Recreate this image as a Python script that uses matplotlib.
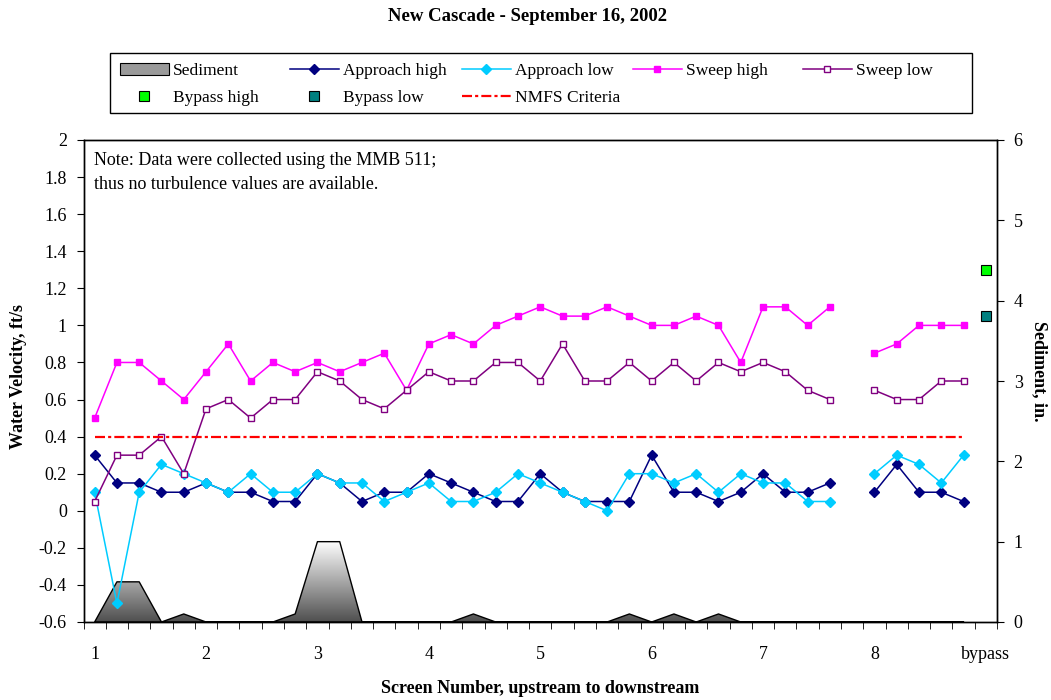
import numpy as np
import matplotlib
matplotlib.use("Agg")
import matplotlib.pyplot as plt
from matplotlib.lines import Line2D
from matplotlib.patches import Patch, Rectangle
from matplotlib.colors import LinearSegmentedColormap

plt.rcParams['font.family'] = ['Liberation Serif', 'DejaVu Serif']

# categories: screens 1.0 .. 8.8 in steps of 0.2, then the bypass
tick_labels = ['1', '2', '3', '4', '5', '6', '7', '8', 'bypass']
n_cat = 41

approach_high = [0.30, 0.15, 0.15, 0.10, 0.10,
                 0.15, 0.10, 0.10, 0.05, 0.05,
                 0.20, 0.15, 0.05, 0.10, 0.10,
                 0.20, 0.15, 0.10, 0.05, 0.05,
                 0.20, 0.10, 0.05, 0.05, 0.05,
                 0.30, 0.10, 0.10, 0.05, 0.10,
                 0.20, 0.10, 0.10, 0.15, None,
                 0.10, 0.25, 0.10, 0.10, 0.05, None]
approach_low = [0.10, -0.50, 0.10, 0.25, 0.20,
                0.15, 0.10, 0.20, 0.10, 0.10,
                0.20, 0.15, 0.15, 0.05, 0.10,
                0.15, 0.05, 0.05, 0.10, 0.20,
                0.15, 0.10, 0.05, 0.00, 0.20,
                0.20, 0.15, 0.20, 0.10, 0.20,
                0.15, 0.15, 0.05, 0.05, None,
                0.20, 0.30, 0.25, 0.15, 0.30, None]
sweep_high = [0.50, 0.80, 0.80, 0.70, 0.60,
              0.75, 0.90, 0.70, 0.80, 0.75,
              0.80, 0.75, 0.80, 0.85, 0.65,
              0.90, 0.95, 0.90, 1.00, 1.05,
              1.10, 1.05, 1.05, 1.10, 1.05,
              1.00, 1.00, 1.05, 1.00, 0.80,
              1.10, 1.10, 1.00, 1.10, None,
              0.85, 0.90, 1.00, 1.00, 1.00, None]
sweep_low = [0.05, 0.30, 0.30, 0.40, 0.20,
             0.55, 0.60, 0.50, 0.60, 0.60,
             0.75, 0.70, 0.60, 0.55, 0.65,
             0.75, 0.70, 0.70, 0.80, 0.80,
             0.70, 0.90, 0.70, 0.70, 0.80,
             0.70, 0.80, 0.70, 0.80, 0.75,
             0.80, 0.75, 0.65, 0.60, None,
             0.65, 0.60, 0.60, 0.70, 0.70, None]
sediment = [0, 0.5, 0.5, 0, 0.1,
            0, 0, 0, 0, 0.1,
            1.0, 1.0, 0, 0, 0,
            0, 0, 0.1, 0, 0,
            0, 0, 0, 0, 0.1,
            0, 0.1, 0, 0.1, 0,
            0, 0, 0, 0, 0,
            0, 0, 0, 0, 0, None]
bypass_high = 1.30
bypass_low = 1.05
nmfs_criteria = 0.4

def arr(v):
    return np.array([np.nan if x is None else x for x in v], dtype=float)

x = np.arange(n_cat)

fig = plt.figure(figsize=(10.51, 7.0), dpi=100)
ax = fig.add_axes([83.5 / 1051, 78 / 700, 913.5 / 1051, 482 / 700])
ax2 = ax.twinx()
ax.set_zorder(ax2.get_zorder() + 1)
ax.patch.set_visible(False)

# sediment area with vertical gradient (right axis)
sed = arr(sediment)
m = ~np.isnan(sed)
poly = ax2.fill_between(x[m], 0, sed[m], facecolor='none', edgecolor='black', linewidth=1.0, zorder=3)
grad = np.linspace(1, 0, 256).reshape(-1, 1)
gray_cmap = LinearSegmentedColormap.from_list('g', ['#4f4f4f', '#ffffff'])
img = ax2.imshow(grad, extent=[-0.5, 40.5, 0, np.nanmax(sed)], aspect='auto',
                 cmap=gray_cmap, vmin=0, vmax=1, zorder=2)
img.set_clip_path(poly.get_paths()[0], transform=ax2.transData)
ax2.set_ylim(0, 6)
ax2.set_xlim(-0.5, 40.5)

# velocity series (left axis)
ms_d = 5
ax.plot(x, arr(approach_high), color='#000080', lw=1.1, marker='D', ms=ms_d)
ax.plot(x, arr(approach_low), color='#00CCFF', lw=1.1, marker='D', ms=ms_d)
ax.plot(x, arr(sweep_high), color='#FF00FF', lw=1.1, marker='s', ms=5)
ax.plot(x, arr(sweep_low), color='#800080', lw=1.1, marker='s', ms=5, mfc='white', mec='#800080')
ax.plot([x[-1]], [bypass_high], ls='none', marker='s', ms=7.5, mfc='#00FF00', mec='black', mew=0.8)
ax.plot([x[-1]], [bypass_low], ls='none', marker='s', ms=7.5, mfc='#008080', mec='black', mew=0.8)
nm, = ax.plot(x[:-1], [nmfs_criteria] * (n_cat - 1), color='#FF0000', lw=1.6)
nm.set_dashes((4.5, 1.4, 1.4, 1.4))

ax.set_xlim(-0.5, 40.5)
ax.set_ylim(-0.6, 2.0)
yt = np.round(np.arange(-0.6, 2.01, 0.2), 1)
ax.set_yticks(yt)
ax.set_yticklabels(['%g' % v for v in yt])
ax.set_xticks(np.arange(0, 41, 5))
ax.set_xticklabels(tick_labels)
ax.set_xticks(np.arange(-0.5, 41, 1), minor=True)
ax.tick_params(axis='x', which='major', length=0, pad=17, labelsize=13)
ax.tick_params(axis='x', which='minor', length=5, direction='out')
ax.tick_params(axis='y', length=5, direction='out', pad=7, labelsize=13)
ax2.tick_params(axis='y', length=5, direction='out', pad=7, labelsize=13)
ax2.set_yticks(range(0, 7))
for a in (ax, ax2):
    for s in a.spines.values():
        s.set_linewidth(1.0)

ax.text(0.011, 0.976, "Note: Data were collected using the MMB 511;\nthus no turbulence values are available.",
        transform=ax.transAxes, ha='left', va='top', fontsize=13, linespacing=1.6)

ax.set_ylabel('Water Velocity, ft/s', fontsize=13, fontweight='bold')
ax.yaxis.set_label_coords(-0.062, 0.51)
ax2.set_ylabel('Sediment, in.', fontsize=13, fontweight='bold', rotation=-90,
               ha='center', va='center', rotation_mode='default')
ax2.yaxis.set_label_coords(1.046, 0.52)
ax.set_xlabel('Screen Number, upstream to downstream', fontsize=13, fontweight='bold')
ax.xaxis.set_label_coords(0.4997, -0.121)
fig.text(0.502, 0.976, 'New Cascade - September 16, 2002', ha='center', va='center',
         fontsize=13.5, fontweight='bold')

# legend: white box with five equally spaced columns
fig.patches.append(Rectangle((110 / 1051, 1 - 113 / 700), 862 / 1051, 60 / 700,
                             transform=fig.transFigure, facecolor='white',
                             edgecolor='black', linewidth=1.0, zorder=1))
columns = [
    ([Patch(facecolor='#9a9a9a', edgecolor='black', lw=0.8),
      Line2D([], [], ls='none', marker='s', ms=7.5, mfc='#00FF00', mec='black', mew=0.8)],
     ['Sediment', 'Bypass high'], 120),
    ([Line2D([], [], color='#000080', lw=1.1, marker='D', ms=ms_d),
      Line2D([], [], ls='none', marker='s', ms=7.5, mfc='#008080', mec='black', mew=0.8)],
     ['Approach high', 'Bypass low'], 290),
    ([Line2D([], [], color='#00CCFF', lw=1.1, marker='D', ms=ms_d),
      Line2D([], [], color='#FF0000', lw=1.6, dashes=(4.5, 1.4, 1.4, 1.4))],
     ['Approach low', 'NMFS Criteria'], 462),
    ([Line2D([], [], color='#FF00FF', lw=1.1, marker='s', ms=5)],
     ['Sweep high'], 633),
    ([Line2D([], [], color='#800080', lw=1.1, marker='s', ms=5, mfc='white', mec='#800080')],
     ['Sweep low'], 803),
]
for hs, ls, px in columns:
    lg = fig.legend(hs, ls, loc='upper left', bbox_to_anchor=(px / 1051, 1 - 63 / 700),
                    bbox_transform=fig.transFigure, fontsize=12.5, frameon=False,
                    handlelength=2.8, handletextpad=0.25, borderpad=0, borderaxespad=0,
                    labelspacing=0.6, numpoints=1)
    lg.set_zorder(2)

fig.savefig('out.png', dpi=100)
